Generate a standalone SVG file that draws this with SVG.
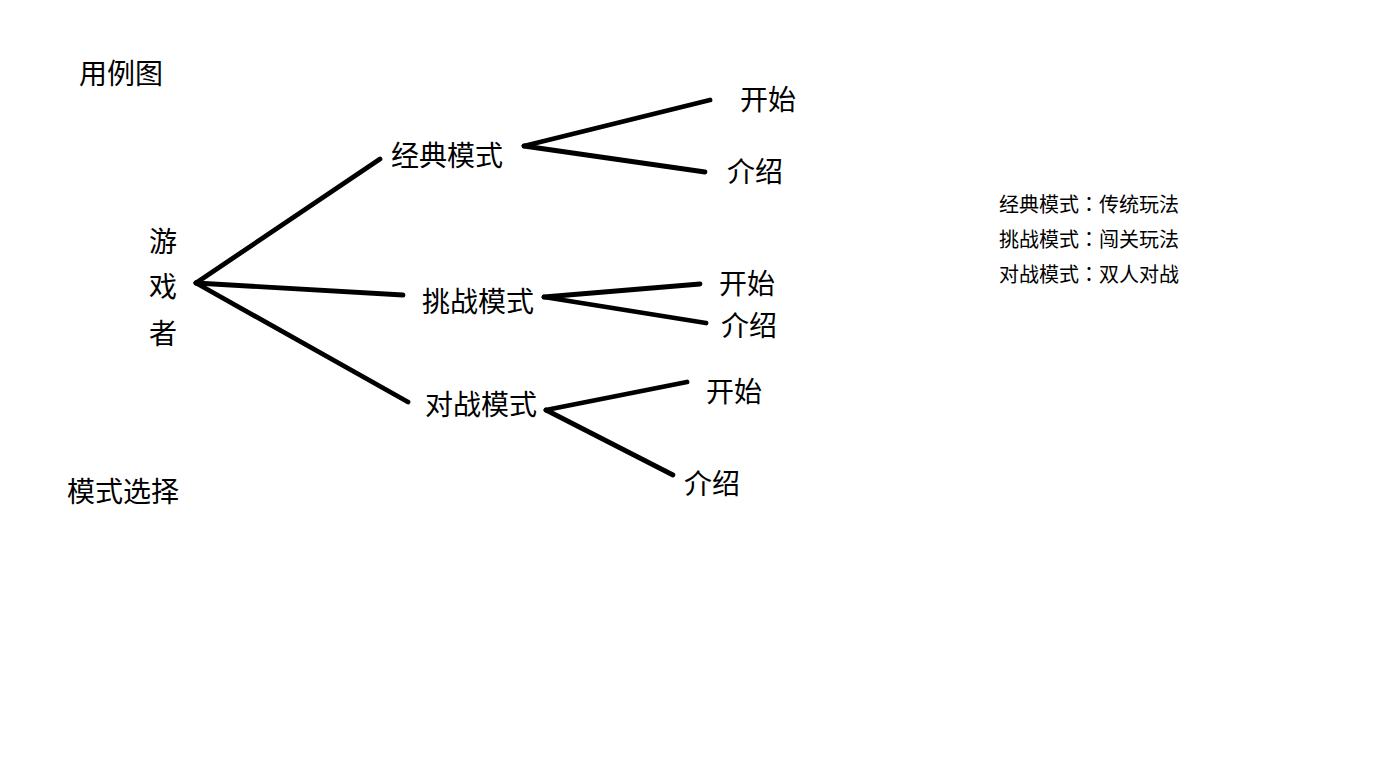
<svg xmlns="http://www.w3.org/2000/svg" width="1382" height="777" viewBox="0 0 1382 777">
<style>
text{font-family:"Microsoft YaHei","Noto Sans CJK SC","Noto Sans",sans-serif;fill:#000}
.big{font-size:28px}
.small{font-size:20px}
.colon{font-family:"Noto Sans CJK TC","Noto Sans CJK SC",sans-serif}
.conn line{stroke:#000;stroke-width:4.8;stroke-linecap:round}
</style>
<rect width="1382" height="777" fill="#fff"/>
<g id="title"><text class="big" x="79" y="84">用例图</text></g>
<g id="player">
<text class="big" x="149" y="252">游</text>
<text class="big" x="149" y="297">戏</text>
<text class="big" x="149" y="344">者</text>
</g>
<g id="mode-select"><text class="big" x="67" y="502">模式选择</text></g>
<g id="classic"><text class="big" x="391" y="166">经典模式</text></g>
<g id="challenge"><text class="big" x="422" y="312">挑战模式</text></g>
<g id="versus"><text class="big" x="425" y="415">对战模式</text></g>
<g id="classic-start"><text class="big" x="740" y="110">开始</text></g>
<g id="classic-intro"><text class="big" x="727" y="182">介绍</text></g>
<g id="challenge-start"><text class="big" x="719" y="294">开始</text></g>
<g id="challenge-intro"><text class="big" x="721" y="336">介绍</text></g>
<g id="versus-start"><text class="big" x="706" y="402">开始</text></g>
<g id="versus-intro"><text class="big" x="684" y="494">介绍</text></g>
<g id="legend">
<text class="small" x="999" y="212">经典模式<tspan class="colon">：</tspan>传统玩法</text>
<text class="small" x="999" y="247">挑战模式<tspan class="colon">：</tspan>闯关玩法</text>
<text class="small" x="999" y="282">对战模式<tspan class="colon">：</tspan>双人对战</text>
</g>
<g class="conn" id="connectors">
<line x1="196" y1="283" x2="380" y2="159"/>
<line x1="196" y1="283" x2="403" y2="295"/>
<line x1="196" y1="283" x2="408" y2="402"/>
<line x1="524" y1="146" x2="710" y2="100"/>
<line x1="524" y1="146" x2="705" y2="172"/>
<line x1="544" y1="297" x2="700" y2="284"/>
<line x1="544" y1="297" x2="706" y2="323"/>
<line x1="546" y1="410" x2="687" y2="382"/>
<line x1="546" y1="410" x2="673" y2="475"/>
</g>
</svg>
